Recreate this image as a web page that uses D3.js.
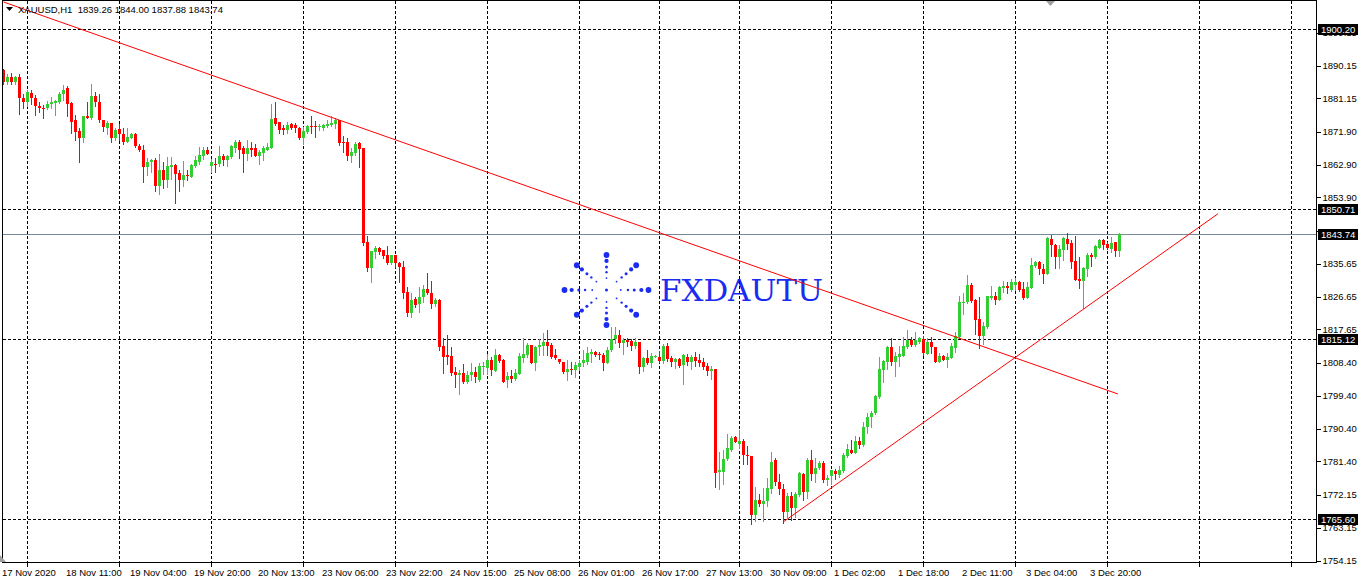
<!DOCTYPE html>
<html>
<head>
<meta charset="utf-8">
<script src="https://cdn.jsdelivr.net/npm/d3@7"></script>
<style>
  html, body { margin: 0; padding: 0; background: #fff; }
  svg { display: block; font-family: 'Liberation Sans', Arial, sans-serif; }
</style>
</head>
<body>
<div id="chart"></div>
<script>
const symbol = 'XAUUSD,H1';
const year = '2020';

// trading sessions shown: [day, first hour, last hour]
const sessions = [
  ['17 Nov', 18, 23], ['18 Nov', 1, 23], ['19 Nov', 1, 23], ['20 Nov', 1, 23],
  ['23 Nov', 1, 23], ['24 Nov', 1, 23], ['25 Nov', 1, 23], ['26 Nov', 1, 20],
  ['27 Nov', 1, 20], ['30 Nov', 1, 23], ['1 Dec', 1, 23], ['2 Dec', 1, 23],
  ['3 Dec', 1, 23], ['4 Dec', 1, 4]
];

const opens = [
  1888.9, 1885.6, 1887.0, 1885.6, 1887.0, 1881.3, 1880.2, 1882.6, 1881.3, 1879.1,
  1878.6, 1878.4, 1879.5, 1879.9, 1880.1, 1882.4, 1883.9, 1879.9, 1875.1, 1872.2,
  1870.3, 1876.2, 1875.6, 1881.9, 1880.2, 1875.3, 1873.1, 1874.4, 1870.1, 1872.7,
  1871.4, 1869.2, 1870.3, 1871.2, 1868.1, 1867.0, 1862.4, 1863.5, 1864.1, 1857.1,
  1861.5, 1858.8, 1862.4, 1862.8, 1860.6, 1858.6, 1860.0, 1859.5, 1862.6, 1863.7,
  1865.2, 1866.8, 1862.6, 1863.1, 1863.0, 1865.2, 1864.1, 1865.0, 1867.6, 1869.0,
  1867.4, 1865.9, 1867.6, 1867.4, 1865.4, 1866.0, 1867.0, 1867.4, 1875.8, 1874.7,
  1872.9, 1872.3, 1874.0, 1873.8, 1873.1, 1870.1, 1872.0, 1873.4, 1873.4, 1873.3,
  1873.1, 1873.6, 1873.8, 1874.0, 1875.1, 1869.2, 1869.2, 1865.4, 1866.1, 1868.9,
  1867.4, 1841.7, 1834.5, 1838.9, 1839.9, 1839.5, 1838.2, 1835.8, 1838.0, 1835.8,
  1834.9, 1827.9, 1822.2, 1825.9, 1824.6, 1826.5, 1828.7, 1827.6, 1824.6, 1825.7,
  1813.1, 1810.5, 1810.3, 1805.9, 1805.2, 1805.7, 1803.1, 1805.0, 1805.9, 1803.7,
  1807.2, 1807.0, 1809.2, 1806.3, 1810.5, 1809.2, 1803.7, 1804.8, 1804.1, 1805.5,
  1809.9, 1810.7, 1813.3, 1808.5, 1812.7, 1813.0, 1814.2, 1813.4, 1810.5, 1809.6,
  1808.7, 1805.9, 1806.8, 1806.5, 1807.4, 1808.3, 1808.7, 1811.0, 1811.4, 1810.9,
  1810.7, 1808.5, 1812.0, 1814.9, 1816.2, 1814.0, 1814.7, 1814.5, 1813.1, 1814.2,
  1807.4, 1809.8, 1808.5, 1810.2, 1810.1, 1809.0, 1813.2, 1809.8, 1808.8, 1809.4,
  1807.9, 1810.1, 1808.7, 1810.1, 1809.2, 1808.7, 1807.6, 1806.1, 1806.8, 1778.4,
  1778.5, 1781.9, 1784.4, 1788.1, 1786.1, 1787.0, 1783.0, 1782.9, 1766.6, 1770.7,
  1769.6, 1770.5, 1773.9, 1781.7, 1775.8, 1773.9, 1767.4, 1771.8, 1768.5, 1772.2,
  1778.0, 1772.9, 1781.7, 1778.0, 1779.5, 1780.9, 1776.3, 1777.4, 1778.7, 1777.6,
  1778.7, 1782.9, 1784.5, 1783.8, 1787.1, 1785.8, 1790.7, 1793.5, 1794.6, 1799.0,
  1806.5, 1808.6, 1812.8, 1808.6, 1810.0, 1810.4, 1812.8, 1814.6, 1813.3, 1814.2,
  1815.0, 1811.0, 1814.2, 1812.9, 1808.7, 1810.2, 1809.3, 1809.8, 1812.6, 1815.5,
  1824.9, 1825.1, 1829.9, 1825.6, 1820.5, 1815.7, 1818.3, 1826.4, 1826.9, 1825.8,
  1828.9, 1829.7, 1828.4, 1829.8, 1830.6, 1828.7, 1826.4, 1829.1, 1835.2, 1836.1,
  1834.3, 1833.0, 1842.5, 1840.9, 1837.6, 1839.4, 1842.5, 1841.4, 1836.5, 1831.5,
  1830.9, 1834.3, 1838.1, 1837.4, 1840.1, 1842.3, 1841.0, 1839.8, 1841.6, 1839.26
];
const highs = [
  1889.2, 1887.9, 1888.1, 1887.4, 1887.7, 1882.3, 1883.4, 1883.5, 1882.1, 1880.0,
  1879.3, 1880.4, 1881.5, 1880.8, 1883.0, 1884.8, 1884.6, 1880.2, 1876.6, 1872.9,
  1876.4, 1880.2, 1885.0, 1883.0, 1882.3, 1875.3, 1874.9, 1874.4, 1872.9, 1874.0,
  1872.9, 1872.9, 1871.6, 1871.6, 1868.7, 1868.3, 1864.6, 1864.4, 1864.6, 1865.9,
  1863.7, 1865.0, 1865.0, 1863.2, 1861.5, 1863.9, 1861.5, 1863.2, 1865.4, 1867.7,
  1867.7, 1867.7, 1864.4, 1864.6, 1867.9, 1865.7, 1865.5, 1868.3, 1869.8, 1869.8,
  1867.9, 1869.6, 1869.2, 1868.7, 1866.8, 1868.1, 1868.9, 1879.5, 1880.1, 1874.7,
  1873.8, 1874.7, 1874.4, 1874.4, 1873.3, 1873.3, 1873.8, 1876.2, 1874.9, 1874.2,
  1874.2, 1875.1, 1876.2, 1875.8, 1875.3, 1870.9, 1870.1, 1867.6, 1869.2, 1869.2,
  1867.4, 1843.3, 1839.3, 1840.6, 1840.4, 1839.5, 1840.6, 1838.2, 1838.0, 1836.2,
  1836.4, 1829.2, 1827.7, 1826.6, 1829.2, 1829.9, 1833.2, 1830.9, 1826.3, 1826.1,
  1815.4, 1816.0, 1812.7, 1807.2, 1806.6, 1808.1, 1806.1, 1808.5, 1807.2, 1808.5,
  1808.8, 1811.0, 1810.1, 1812.3, 1811.0, 1809.4, 1805.9, 1806.4, 1806.8, 1811.2,
  1815.3, 1813.8, 1813.4, 1813.1, 1815.1, 1816.6, 1817.6, 1813.8, 1812.3, 1809.6,
  1808.7, 1809.2, 1808.8, 1808.7, 1809.2, 1812.1, 1812.7, 1812.3, 1811.8, 1811.4,
  1811.2, 1812.9, 1818.4, 1818.2, 1817.5, 1815.3, 1815.3, 1815.1, 1815.3, 1814.3,
  1810.0, 1812.0, 1811.2, 1810.5, 1811.8, 1813.6, 1813.8, 1810.3, 1809.9, 1809.8,
  1811.0, 1810.9, 1810.7, 1811.4, 1810.9, 1809.8, 1808.3, 1807.7, 1806.8, 1783.9,
  1784.4, 1788.8, 1788.3, 1788.3, 1789.9, 1787.5, 1785.5, 1782.9, 1774.3, 1772.3,
  1774.1, 1776.9, 1783.9, 1782.4, 1777.8, 1775.2, 1772.7, 1772.9, 1772.9, 1778.6,
  1778.2, 1782.4, 1784.4, 1782.4, 1781.5, 1781.5, 1777.6, 1779.1, 1779.3, 1780.2,
  1783.7, 1786.1, 1787.3, 1788.4, 1788.2, 1792.2, 1794.6, 1795.3, 1799.6, 1810.0,
  1809.1, 1813.2, 1815.2, 1811.5, 1813.1, 1815.5, 1817.4, 1815.5, 1816.8, 1815.5,
  1815.7, 1815.2, 1815.5, 1812.9, 1811.1, 1810.6, 1811.1, 1813.9, 1816.8, 1826.9,
  1827.6, 1832.6, 1830.4, 1826.0, 1826.5, 1819.8, 1826.9, 1829.7, 1827.8, 1829.5,
  1830.9, 1830.6, 1831.5, 1831.9, 1830.9, 1830.8, 1830.8, 1837.2, 1836.3, 1836.3,
  1835.7, 1842.9, 1843.6, 1841.0, 1840.7, 1842.9, 1844.2, 1842.1, 1843.3, 1837.6,
  1834.8, 1838.5, 1838.7, 1840.9, 1842.5, 1842.5, 1841.6, 1842.9, 1841.6, 1844.00
];
const lows = [
  1885.2, 1885.0, 1885.0, 1885.2, 1876.8, 1878.6, 1878.9, 1879.5, 1876.6, 1877.3,
  1875.7, 1878.2, 1878.6, 1876.6, 1879.9, 1880.6, 1876.4, 1871.6, 1869.6, 1863.5,
  1869.0, 1875.6, 1875.5, 1879.1, 1874.5, 1872.2, 1871.2, 1869.0, 1869.6, 1869.8,
  1868.7, 1869.0, 1870.1, 1867.8, 1866.6, 1858.2, 1860.2, 1861.0, 1855.6, 1854.9,
  1856.4, 1856.7, 1858.9, 1852.5, 1855.8, 1857.1, 1858.6, 1859.5, 1862.2, 1863.2,
  1864.4, 1865.7, 1860.8, 1860.9, 1862.6, 1862.8, 1862.6, 1864.8, 1866.3, 1864.8,
  1860.8, 1864.1, 1865.4, 1865.4, 1863.2, 1864.1, 1867.0, 1867.4, 1873.8, 1871.6,
  1871.2, 1871.6, 1872.7, 1872.0, 1870.0, 1868.7, 1871.6, 1871.6, 1870.5, 1872.5,
  1872.4, 1873.3, 1873.4, 1873.1, 1868.3, 1866.5, 1864.3, 1863.5, 1865.6, 1862.4,
  1840.9, 1833.8, 1830.7, 1837.3, 1838.4, 1837.3, 1835.5, 1835.5, 1834.7, 1830.7,
  1826.3, 1821.3, 1821.1, 1823.9, 1822.4, 1825.2, 1827.4, 1823.5, 1824.1, 1812.1,
  1805.7, 1808.1, 1805.0, 1801.7, 1800.0, 1803.0, 1802.8, 1803.7, 1803.1, 1803.5,
  1805.5, 1805.3, 1805.2, 1806.1, 1808.6, 1803.1, 1801.7, 1803.1, 1803.7, 1805.4,
  1808.8, 1810.1, 1808.3, 1806.6, 1810.5, 1810.5, 1810.5, 1809.8, 1809.6, 1808.3,
  1805.7, 1803.7, 1805.3, 1804.6, 1806.5, 1807.7, 1808.1, 1808.7, 1810.3, 1809.6,
  1806.5, 1808.3, 1811.8, 1813.8, 1812.9, 1810.9, 1813.2, 1812.0, 1812.5, 1805.7,
  1806.3, 1808.1, 1807.4, 1810.0, 1808.8, 1808.3, 1809.0, 1807.6, 1807.0, 1807.2,
  1802.6, 1807.9, 1806.8, 1807.7, 1807.7, 1806.8, 1805.2, 1804.1, 1774.3, 1773.9,
  1775.2, 1781.7, 1784.2, 1786.6, 1785.0, 1780.8, 1780.6, 1764.2, 1765.1, 1769.2,
  1765.1, 1769.2, 1772.8, 1774.9, 1772.5, 1764.4, 1766.2, 1765.3, 1766.2, 1771.8,
  1770.8, 1771.2, 1776.2, 1775.6, 1779.3, 1775.8, 1774.9, 1775.2, 1776.5, 1777.2,
  1778.5, 1782.6, 1783.6, 1783.6, 1785.1, 1785.6, 1789.3, 1790.7, 1794.4, 1798.8,
  1803.1, 1806.7, 1807.8, 1804.9, 1807.5, 1810.4, 1812.6, 1813.1, 1813.1, 1813.9,
  1810.6, 1810.8, 1811.1, 1808.6, 1808.6, 1809.1, 1807.3, 1809.7, 1811.5, 1815.2,
  1821.9, 1824.9, 1825.3, 1816.4, 1812.6, 1813.7, 1818.1, 1826.0, 1824.7, 1825.6,
  1828.0, 1827.7, 1828.2, 1828.4, 1828.2, 1826.0, 1826.2, 1829.0, 1834.8, 1833.0,
  1830.4, 1832.8, 1837.7, 1834.6, 1834.6, 1836.8, 1839.8, 1834.6, 1831.1, 1829.1,
  1823.6, 1832.4, 1835.2, 1837.2, 1839.9, 1839.8, 1839.8, 1838.8, 1837.9, 1837.88
];
const closes = [
  1885.6, 1887.0, 1885.6, 1887.0, 1881.2, 1880.2, 1883.0, 1881.2, 1879.0, 1878.4,
  1878.4, 1879.7, 1880.1, 1880.4, 1882.4, 1883.5, 1879.5, 1874.7, 1871.8, 1870.3,
  1876.2, 1875.6, 1881.9, 1880.1, 1875.1, 1873.3, 1874.4, 1870.1, 1872.3, 1871.4,
  1869.2, 1870.5, 1871.2, 1867.9, 1866.8, 1862.4, 1863.7, 1864.1, 1857.1, 1861.5,
  1858.8, 1862.6, 1862.8, 1860.4, 1858.6, 1860.0, 1859.7, 1862.8, 1864.1, 1865.5,
  1866.8, 1865.9, 1863.5, 1863.0, 1865.2, 1864.1, 1865.2, 1867.9, 1869.2, 1867.0,
  1865.9, 1867.6, 1867.0, 1865.4, 1866.3, 1867.4, 1867.7, 1875.5, 1874.2, 1872.5,
  1872.3, 1873.8, 1872.9, 1872.9, 1870.3, 1872.2, 1873.4, 1873.3, 1873.3, 1873.6,
  1873.8, 1874.0, 1874.4, 1875.1, 1868.9, 1869.0, 1865.4, 1866.5, 1868.7, 1867.2,
  1841.3, 1834.5, 1839.1, 1839.9, 1838.9, 1837.7, 1835.8, 1838.0, 1835.8, 1834.7,
  1827.7, 1822.2, 1825.7, 1824.4, 1826.6, 1828.7, 1827.6, 1824.6, 1825.7, 1812.7,
  1810.1, 1810.1, 1805.7, 1805.2, 1805.7, 1803.1, 1805.2, 1805.9, 1804.6, 1807.6,
  1807.6, 1809.2, 1806.6, 1810.5, 1809.0, 1803.3, 1804.8, 1804.1, 1805.7, 1810.3,
  1810.9, 1813.4, 1808.5, 1812.9, 1813.4, 1814.3, 1813.2, 1810.1, 1809.8, 1808.7,
  1805.9, 1806.8, 1806.5, 1807.9, 1808.5, 1809.2, 1811.2, 1811.4, 1810.7, 1810.7,
  1808.5, 1812.1, 1815.1, 1816.2, 1814.0, 1814.7, 1814.2, 1813.2, 1814.2, 1807.4,
  1809.8, 1808.5, 1810.3, 1810.3, 1809.0, 1813.2, 1809.6, 1808.8, 1809.4, 1807.6,
  1810.5, 1808.7, 1810.1, 1809.0, 1808.3, 1807.4, 1806.3, 1806.8, 1778.2, 1778.9,
  1782.0, 1785.0, 1787.9, 1786.8, 1787.0, 1783.0, 1782.8, 1766.6, 1770.7, 1769.6,
  1770.5, 1774.1, 1781.1, 1775.8, 1773.8, 1767.4, 1771.8, 1768.5, 1772.5, 1778.2,
  1772.9, 1781.7, 1778.0, 1779.5, 1780.9, 1776.3, 1776.7, 1778.9, 1777.8, 1778.9,
  1783.1, 1784.8, 1783.8, 1787.1, 1785.8, 1790.9, 1793.7, 1794.8, 1799.4, 1806.7,
  1808.9, 1812.9, 1808.6, 1810.4, 1810.8, 1813.2, 1814.6, 1813.3, 1814.6, 1815.2,
  1811.1, 1814.2, 1812.8, 1808.7, 1810.2, 1809.3, 1810.0, 1813.1, 1815.7, 1825.1,
  1825.3, 1829.9, 1825.4, 1820.3, 1815.7, 1818.5, 1826.7, 1826.9, 1825.8, 1829.3,
  1829.7, 1828.9, 1830.6, 1830.8, 1828.4, 1826.2, 1829.3, 1835.4, 1836.1, 1834.3,
  1833.0, 1842.7, 1840.7, 1837.6, 1839.6, 1842.7, 1841.2, 1836.1, 1831.3, 1830.9,
  1834.6, 1838.1, 1837.4, 1840.5, 1842.3, 1840.7, 1839.9, 1841.4, 1839.2, 1843.74
];

const priceTicks = [1899.15, 1890.15, 1881.15, 1871.90, 1862.90, 1853.90, 1844.65, 1835.65,
  1826.65, 1817.65, 1808.40, 1799.40, 1790.40, 1781.40, 1772.15, 1763.15, 1754.15];
const levels = [1900.20, 1850.71, 1815.12, 1765.60];
const bid = 1843.74;

// trend lines as [bar, price] anchors
const trendDown = [[0, 1907.6], [278.6, 1799.9]];
const trendUp = [[195, 1764.8], [303.6, 1849.4]];

const labelEvery = 16;
const barsPerDay = 23;

let width = 1362;
let height = 581;
let plot = { left: 2.5, right: 1316.5, top: 0.5, bottom: 562.5 };

let bars = [];
sessions.forEach(([day, from, to]) => {
  for (let h = from; h <= to; h++) {
    bars.push({ day, hour: h });
  }
});
bars.forEach((b, i) => {
  b.i = i;
  b.open = opens[i];
  b.high = highs[i];
  b.low = lows[i];
  b.close = closes[i];
});

let x = d3.scaleLinear().domain([0, 1]).range([3.5, 7.5]);
let y = d3.scaleLinear().domain([1754.15, 1890.15]).range([560.5, 65.5]);

// day separators: first bar of each full session, then continue into the empty shift area
let dayStarts = bars.filter(b => b.hour === 1).map(b => b.i);
let next = dayStarts[dayStarts.length - 1] + barsPerDay;
while (x(next) < plot.right) {
  dayStarts.push(next);
  next += barsPerDay;
}

let svg = d3.select('#chart').append('svg')
  .attr('width', width)
  .attr('height', height);

svg.append('defs').append('clipPath')
  .attr('id', 'plot-clip')
  .append('rect')
  .attr('x', plot.left)
  .attr('y', plot.top)
  .attr('width', plot.right - plot.left)
  .attr('height', plot.bottom - plot.top);

// watermark
let logo = svg.append('g')
  .attr('transform', 'translate(606.5,290)')
  .attr('fill', '#1a2cf0');

let steps = [0.34, 0.51, 0.66, 0.83, 1];
let dotR = [0.9, 1.2, 1.5, 2.1, 2.9];
d3.range(8).forEach(k => {
  let a = k * Math.PI / 4;
  steps.forEach((s, j) => {
    logo.append('circle')
      .attr('cx', Math.cos(a) * 42 * s)
      .attr('cy', Math.sin(a) * 35 * s)
      .attr('r', dotR[j]);
  });
});
logo.append('circle').attr('r', 1.5);

svg.append('text')
  .attr('x', 660)
  .attr('y', 301)
  .attr('textLength', 163)
  .attr('lengthAdjust', 'spacingAndGlyphs')
  .style('font-family', "'DejaVu Serif', 'Liberation Serif', serif")
  .style('font-size', '29px')
  .style('fill', '#1a2cf0')
  .text('FXDAUTU');

let grid = svg.append('g')
  .attr('stroke', '#000')
  .attr('stroke-dasharray', '3,2')
  .attr('shape-rendering', 'crispEdges');

grid.selectAll('line.v')
  .data(dayStarts)
  .enter()
  .append('line')
  .attr('class', 'v')
  .attr('x1', d => x(d))
  .attr('x2', d => x(d))
  .attr('y1', plot.top)
  .attr('y2', plot.bottom);

grid.selectAll('line.h')
  .data(levels)
  .enter()
  .append('line')
  .attr('class', 'h')
  .attr('x1', plot.left)
  .attr('x2', plot.right)
  .attr('y1', d => Math.round(y(d)) + 0.5)
  .attr('y2', d => Math.round(y(d)) + 0.5);

svg.append('line')
  .attr('x1', plot.left)
  .attr('x2', plot.right)
  .attr('y1', Math.round(y(bid)) + 0.5)
  .attr('y2', Math.round(y(bid)) + 0.5)
  .attr('stroke', '#778899')
  .attr('shape-rendering', 'crispEdges');

// candles
let candles = svg.append('g')
  .attr('shape-rendering', 'crispEdges')
  .selectAll('g')
  .data(bars)
  .enter()
  .append('g')
  .style('fill', d => d.close >= d.open ? '#32cd32' : '#ff0000')
  .style('stroke', d => d.close >= d.open ? '#32cd32' : '#ff0000');

candles.append('line')
  .attr('x1', d => x(d.i))
  .attr('x2', d => x(d.i))
  .attr('y1', d => Math.round(y(d.high)))
  .attr('y2', d => Math.round(y(d.low)) + 1);

candles.append('rect')
  .style('stroke', 'none')
  .attr('x', d => x(d.i) - 1.5)
  .attr('width', 3)
  .attr('y', d => Math.round(y(Math.max(d.open, d.close))))
  .attr('height', d => Math.max(1, Math.round(y(Math.min(d.open, d.close))) - Math.round(y(Math.max(d.open, d.close)))));

// trend lines
let line = d3.line().x(d => x(d[0])).y(d => y(d[1]));
svg.append('g')
  .attr('clip-path', 'url(#plot-clip)')
  .selectAll('path')
  .data([trendDown, trendUp])
  .enter()
  .append('path')
  .attr('d', line)
  .attr('fill', 'none')
  .attr('stroke', '#ff0000')
  .attr('stroke-width', 1);

// frame
svg.append('path')
  .attr('d', `M${plot.left},${plot.bottom}V${plot.top}H${plot.right}V${plot.bottom}H${plot.left}`)
  .attr('fill', 'none')
  .attr('stroke', '#000')
  .attr('shape-rendering', 'crispEdges');

// price axis
let yAxis = svg.append('g')
  .style('font-size', '9.5px');

yAxis.selectAll('line')
  .data(priceTicks)
  .enter()
  .append('line')
  .attr('x1', plot.right)
  .attr('x2', plot.right + 4)
  .attr('y1', d => Math.round(y(d)) + 0.5)
  .attr('y2', d => Math.round(y(d)) + 0.5)
  .attr('stroke', '#000')
  .attr('shape-rendering', 'crispEdges');

yAxis.selectAll('text')
  .data(priceTicks)
  .enter()
  .append('text')
  .attr('x', plot.right + 6)
  .attr('y', d => y(d))
  .attr('dy', '0.36em')
  .text(d => d.toFixed(2));

let boxes = svg.append('g')
  .style('font-size', '9.5px')
  .selectAll('g')
  .data(levels.concat([bid]))
  .enter()
  .append('g')
  .attr('transform', d => `translate(${plot.right + 1.5},${Math.round(y(d)) + 0.5})`);

boxes.append('rect')
  .attr('x', 0)
  .attr('y', -5.5)
  .attr('width', 40)
  .attr('height', 11)
  .attr('fill', '#000');

boxes.append('text')
  .attr('x', 3)
  .attr('dy', '0.36em')
  .attr('fill', '#fff')
  .text(d => d.toFixed(2));

// time axis
let xAxis = svg.append('g')
  .style('font-size', '9.5px');

xAxis.selectAll('line')
  .data(dayStarts)
  .enter()
  .append('line')
  .attr('x1', d => x(d))
  .attr('x2', d => x(d))
  .attr('y1', plot.bottom)
  .attr('y2', plot.bottom + 4)
  .attr('stroke', '#000')
  .attr('shape-rendering', 'crispEdges');

let pad = n => (n < 10 ? '0' : '') + n;
xAxis.selectAll('text')
  .data(bars.filter(b => b.i % labelEvery === 0))
  .enter()
  .append('text')
  .attr('x', d => x(d.i) - 1.5)
  .attr('y', 576)
  .text(d => d.i === 0 ? `${d.day} ${year}` : `${d.day} ${pad(d.hour)}:00`);

// header
let last = bars[bars.length - 1];
svg.append('path')
  .attr('d', 'M6,7H13L9.5,11Z')
  .attr('fill', '#000');

svg.append('text')
  .attr('x', 18)
  .attr('y', 12.5)
  .style('font-size', '9.5px')
  .style('white-space', 'pre')
  .text(`${symbol}  ${[last.open, last.high, last.low, last.close].map(v => v.toFixed(2)).join(' ')}`);

// shift markers
svg.append('path')
  .attr('d', 'M1046,1H1055L1050.5,6Z')
  .attr('fill', '#a0a0a0');

svg.append('path')
  .attr('d', 'M0,555L6,562H0Z')
  .attr('fill', '#a0a0a0');
</script>
</body>
</html>
